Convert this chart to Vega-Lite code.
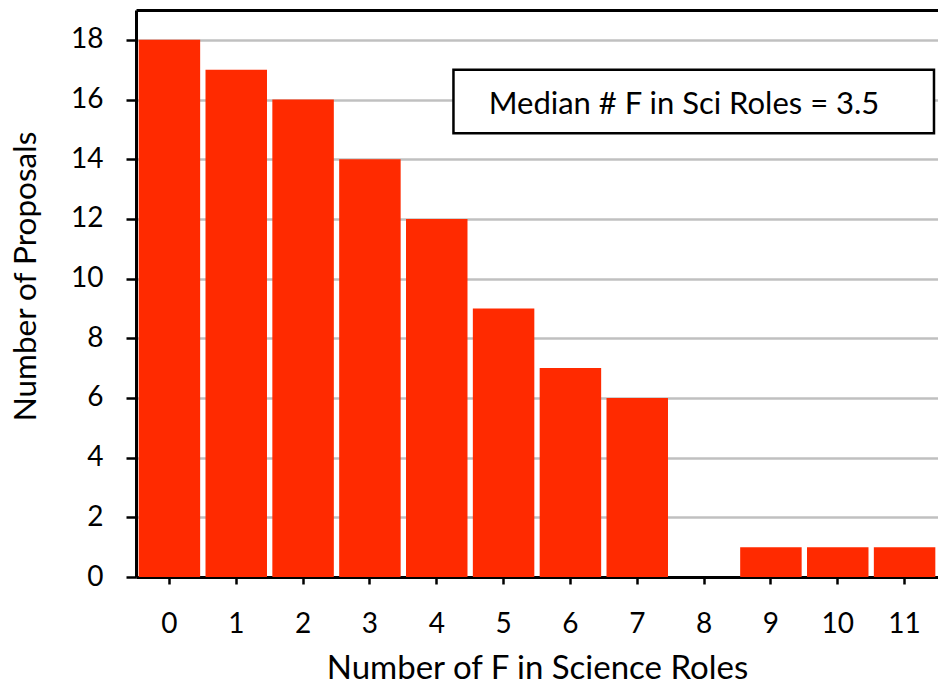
{
  "$schema": "https://vega.github.io/schema/vega-lite/v6.json",
  "width": 802,
  "height": 567,
  "autosize": {"type": "none"},
  "padding": {"left": 136, "top": 10, "right": 0, "bottom": 110},
  "config": {
    "font": "Lato",
    "view": {"stroke": null}
  },
  "layer": [
    {
      "data": {
        "values": [
          {"roles": 0, "proposals": 18},
          {"roles": 1, "proposals": 17},
          {"roles": 2, "proposals": 16},
          {"roles": 3, "proposals": 14},
          {"roles": 4, "proposals": 12},
          {"roles": 5, "proposals": 9},
          {"roles": 6, "proposals": 7},
          {"roles": 7, "proposals": 6},
          {"roles": 8, "proposals": 0},
          {"roles": 9, "proposals": 1},
          {"roles": 10, "proposals": 1},
          {"roles": 11, "proposals": 1}
        ]
      },
      "mark": {"type": "bar", "color": "#FF2A00"},
      "encoding": {
        "x": {
          "field": "roles",
          "type": "ordinal",
          "sort": "ascending",
          "scale": {"paddingInner": 0.08, "paddingOuter": 0.04},
          "axis": {
            "title": "Number of F in Science Roles",
            "titleFontSize": 33,
            "titleFontWeight": "normal",
            "titleColor": "black",
            "titlePadding": 14,
            "labelFontSize": 28,
            "labelColor": "black",
            "labelAngle": 0,
            "labelPadding": 26,
            "tickSize": 7,
            "tickWidth": 2.5,
            "tickColor": "black",
            "domainColor": "black",
            "domainWidth": 3
          }
        },
        "y": {
          "field": "proposals",
          "type": "quantitative",
          "scale": {"domain": [0, 19], "nice": false},
          "axis": {
            "title": "Number of Proposals",
            "titleFontSize": 31.5,
            "titleFontWeight": "normal",
            "titleColor": "black",
            "titleX": -101,
            "titleY": 266,
            "titleAngle": -90,
            "titleAlign": "center",
            "titleBaseline": "alphabetic",
            "values": [0, 2, 4, 6, 8, 10, 12, 14, 16, 18],
            "labelFontSize": 28,
            "labelColor": "black",
            "labelPadding": 23,
            "tickSize": 10,
            "tickWidth": 2.5,
            "tickColor": "black",
            "domainColor": "black",
            "domainWidth": 3,
            "grid": true,
            "gridColor": "#C0C0C0",
            "gridWidth": 2.5
          }
        }
      }
    },
    {
      "data": {
        "values": [
          {"x1": 4.25, "x2": 11.44, "y1": 14.87, "y2": 17.0, "xm": 7.7, "ym": 15.8, "label": "Median # F in Sci Roles = 3.5"}
        ]
      },
      "encoding": {
        "x": {
          "field": "x1",
          "type": "quantitative",
          "scale": {"domain": [-0.5, 11.5], "nice": false, "zero": false},
          "axis": {
            "orient": "top",
            "title": null,
            "labels": false,
            "ticks": false,
            "grid": false,
            "domainColor": "black",
            "domainWidth": 3
          }
        },
        "y": {"field": "y1", "type": "quantitative"}
      },
      "layer": [
        {
          "mark": {"type": "rect", "fill": "white", "stroke": "black", "strokeWidth": 2.5},
          "encoding": {
            "x2": {"field": "x2"},
            "y2": {"field": "y2"}
          }
        },
        {
          "mark": {"type": "text", "fontSize": 31, "baseline": "middle", "align": "center", "color": "black"},
          "encoding": {
            "x": {"field": "xm", "type": "quantitative"},
            "y": {"field": "ym", "type": "quantitative"},
            "text": {"field": "label"}
          }
        }
      ]
    }
  ],
  "resolve": {"scale": {"x": "independent"}}
}
